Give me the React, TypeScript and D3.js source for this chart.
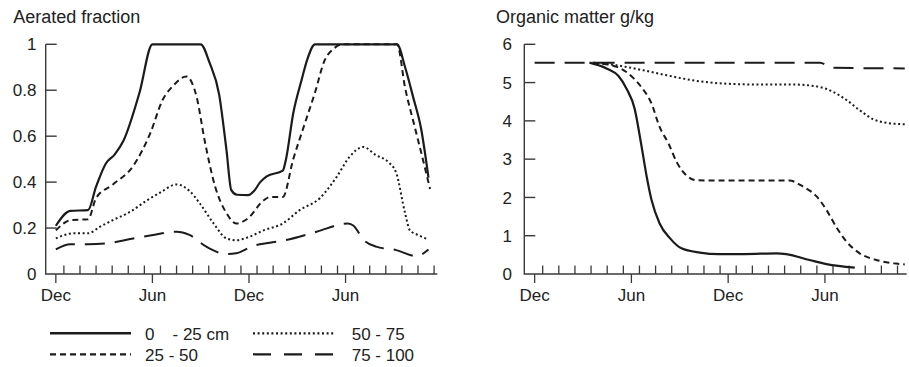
import React from "react";
import * as d3 from "d3";

// ---------- data (month index from first December) ----------
const majorTickMonths = [0, 6, 12, 18];
const majorTickLabels = ["Dec", "Jun", "Dec", "Jun"];

const aeratedTicks = [0, 0.2, 0.4, 0.6, 0.8, 1];
const aeratedTickLabels = ["0", "0.2", "0.4", "0.6", "0.8", "1"];
const organicTicks = [0, 1, 2, 3, 4, 5, 6];
const organicTickLabels = ["0", "1", "2", "3", "4", "5", "6"];

const seriesNames = ["0 - 25 cm", "25 - 50", "50 - 75", "75 - 100"];

const aerated_0_25: [number, number][] = [
  [0, 0.21], [0.9, 0.275], [2.0, 0.278], [2.5, 0.38], [3.1, 0.48], [3.65, 0.52], [4.2, 0.58],
  [5.2, 0.79], [6.0, 1.0], [9.0, 1.0], [9.55, 0.92], [10.15, 0.78], [10.6, 0.54], [10.9, 0.365],
  [11.25, 0.345], [11.95, 0.343], [12.3, 0.36], [12.7, 0.4], [13.1, 0.425], [14.1, 0.45],
  [14.3, 0.5], [14.75, 0.7], [15.25, 0.84], [15.65, 0.94], [16.1, 1.0], [21.2, 1.0],
  [21.7, 0.9], [22.2, 0.77], [22.7, 0.63], [23.15, 0.42],
];
const aerated_25_50: [number, number][] = [
  [0, 0.19], [0.95, 0.235], [2.0, 0.238], [2.5, 0.33], [3.55, 0.39], [4.8, 0.47], [5.85, 0.61],
  [6.65, 0.76], [7.3, 0.82], [8.1, 0.86], [8.75, 0.77], [9.25, 0.58], [9.9, 0.38], [10.6, 0.265],
  [11.2, 0.22], [11.95, 0.243], [12.9, 0.32], [13.3, 0.335], [14.1, 0.335], [14.75, 0.5],
  [15.35, 0.63], [16.1, 0.79], [16.7, 0.93], [17.25, 0.98], [17.8, 1.0], [21.2, 1.0],
  [21.7, 0.81], [22.3, 0.64], [22.8, 0.5], [23.25, 0.37],
];
const aerated_50_75: [number, number][] = [
  [0, 0.155], [1.1, 0.177], [2.0, 0.177], [2.75, 0.206], [3.55, 0.235], [4.6, 0.27], [5.65, 0.32],
  [6.5, 0.355], [7.5, 0.39], [8.3, 0.362], [8.95, 0.307], [9.8, 0.22], [10.6, 0.155], [11.2, 0.147],
  [11.95, 0.16], [12.9, 0.19], [14.1, 0.22], [15.15, 0.278], [16.4, 0.33], [17.45, 0.423],
  [18.25, 0.51], [19.1, 0.553], [19.9, 0.517], [20.65, 0.488], [21.15, 0.44], [21.7, 0.264],
  [22.0, 0.19], [22.5, 0.17], [23.15, 0.15],
];
const aerated_75_100: [number, number][] = [
  [0, 0.107], [0.9, 0.129], [2.0, 0.129], [3.15, 0.133], [4.8, 0.155], [6.05, 0.17], [7.5, 0.184],
  [8.3, 0.17], [9.35, 0.119], [10.6, 0.087], [11.2, 0.09], [12.25, 0.122], [13.3, 0.136],
  [14.3, 0.148], [16.2, 0.184], [18.15, 0.22], [18.5, 0.21], [19.1, 0.15], [19.9, 0.119],
  [21.15, 0.104], [22.4, 0.078], [23.15, 0.107],
];

const organic_0_25: [number, number][] = [
  [3.4, 5.52], [4.45, 5.37], [5.2, 5.17], [5.7, 4.84], [6.2, 4.32], [6.6, 3.41], [6.95, 2.54],
  [7.25, 1.93], [7.75, 1.32], [8.4, 0.93], [9.1, 0.67], [10.25, 0.56], [11.4, 0.52], [13.0, 0.52],
  [15.0, 0.54], [15.6, 0.52], [17.05, 0.365], [18.1, 0.26], [19.85, 0.165],
];
const organic_25_50: [number, number][] = [
  [3.6, 5.52], [5.1, 5.41], [6.1, 5.13], [6.6, 4.89], [7.25, 4.45], [7.75, 3.84], [8.3, 3.41],
  [8.8, 2.93], [9.4, 2.58], [10.0, 2.45], [12.0, 2.44], [15.8, 2.44], [16.65, 2.28], [17.5, 2.02],
  [18.1, 1.67], [18.7, 1.23], [19.35, 0.84], [20.15, 0.54], [21.2, 0.365], [22.25, 0.28],
  [22.95, 0.25],
];
const organic_50_75: [number, number][] = [
  [3.6, 5.52], [5.1, 5.45], [6.75, 5.32], [8.2, 5.19], [9.8, 5.06], [11.9, 4.97], [14.0, 4.95],
  [16.0, 4.95], [17.5, 4.9], [18.5, 4.76], [19.35, 4.54], [20.15, 4.28], [21.0, 4.04],
  [21.8, 3.95], [22.95, 3.91],
];
const organic_75_100: [number, number][] = [
  [0, 5.52], [17.7, 5.52], [18.4, 5.39], [22.95, 5.37],
];

// ---------- styles ----------
const FONT = "'Liberation Sans', Arial, Helvetica, sans-serif";
const INK = "#1b1b1b";
const AXIS = "#3a3a3a";
const dashStyles = ["none", "6,4", "2,2.6", "20,10"];
const lineWidths = [2.2, 2, 2, 2];

type PanelProps = {
  title: string;
  titleX: number;
  axisX: number;
  axisEndX: number;
  domainStart: number;
  domainEnd: number;
  yMax: number;
  yTicks: number[];
  yTickLabels: string[];
  labelRight: number;
  minorCount: number;
  data: [number, number][][];
};

const TOP = 44.3;
const BOTTOM = 274;

function Panel(p: PanelProps) {
  const x = d3.scaleLinear().domain([p.domainStart, p.domainEnd]).range([p.axisX, p.axisEndX]);
  const y = d3.scaleLinear().domain([0, p.yMax]).range([BOTTOM, TOP]);
  const line = d3
    .line<[number, number]>()
    .x((d) => x(d[0]))
    .y((d) => y(d[1]))
    .curve(d3.curveMonotoneX);
  const minor = d3.range(p.minorCount).map((k) => k + 0.5);
  return (
    <g>
      <text x={p.titleX} y={22.7} fontSize={18} fill="#222" fontFamily={FONT}>
        {p.title}
      </text>
      {/* axes */}
      <path
        d={`M${p.axisX},${TOP}V${BOTTOM}H${p.axisEndX}`}
        fill="none"
        stroke={AXIS}
        strokeWidth={1.4}
      />
      {p.yTicks.map((t, i) => (
        <g key={"y" + i}>
          {t > 0 && (
            <line x1={p.axisX} x2={p.axisX + 11} y1={y(t)} y2={y(t)} stroke={AXIS} strokeWidth={1.4} />
          )}
          <text
            x={p.labelRight}
            y={y(t)}
            dy="0.36em"
            textAnchor="end"
            fontSize={17}
            fill="#222"
            fontFamily={FONT}
          >
            {p.yTickLabels[i]}
          </text>
        </g>
      ))}
      {minor.map((m, i) => (
        <line key={"m" + i} x1={x(m)} x2={x(m)} y1={BOTTOM} y2={BOTTOM - 8.5} stroke={AXIS} strokeWidth={1.3} />
      ))}
      {majorTickMonths.map((m, i) => (
        <g key={"M" + i}>
          <line x1={x(m)} x2={x(m)} y1={BOTTOM} y2={BOTTOM + 9} stroke={AXIS} strokeWidth={1.3} />
          <text x={x(m)} y={301} textAnchor="middle" fontSize={17} fill="#222" fontFamily={FONT}>
            {majorTickLabels[i]}
          </text>
        </g>
      ))}
      {p.data.map((s, i) => (
        <path
          key={"s" + i}
          d={line(s) || ""}
          fill="none"
          stroke={INK}
          strokeWidth={lineWidths[i]}
          strokeDasharray={dashStyles[i]}
        />
      ))}
    </g>
  );
}

function Legend() {
  const rows = [333.3, 354.3];
  const items = [
    { col: 0, row: 0, idx: 0 },
    { col: 0, row: 1, idx: 1 },
    { col: 1, row: 0, idx: 2 },
    { col: 1, row: 1, idx: 3 },
  ];
  const lineX = [[50, 131], [253, 335]];
  const textX = [145, 351.7];
  return (
    <g>
      {items.map((it) => {
        const yy = rows[it.row];
        const name = seriesNames[it.idx];
        const isFirst = it.idx === 0;
        return (
          <g key={it.idx}>
            <line
              x1={lineX[it.col][0]}
              x2={lineX[it.col][1]}
              y1={yy}
              y2={yy}
              stroke={INK}
              strokeWidth={it.idx === 0 ? 2.4 : 2.2}
              strokeDasharray={it.idx === 3 ? "18,13" : dashStyles[it.idx]}
            />
            {isFirst ? (
              <g>
                <text x={textX[it.col]} y={yy + 7} fontSize={17} fill="#222" fontFamily={FONT}>
                  {name.split(" ")[0]}
                </text>
                <text x={172.5} y={yy + 7} fontSize={17} fill="#222" fontFamily={FONT}>
                  {name.split(" ").slice(1).join(" ")}
                </text>
              </g>
            ) : (
              <text x={textX[it.col]} y={yy + 7} fontSize={17} fill="#222" fontFamily={FONT}>
                {name}
              </text>
            )}
          </g>
        );
      })}
    </g>
  );
}

export default function App() {
  return (
    <svg
      width={909}
      height={367}
      style={{ position: "absolute", left: 0, top: 0, background: "#fff" }}
    >
      <rect width={909} height={367} fill="#fff" />
      <Panel
        title="Aerated fraction"
        titleX={13.3}
        axisX={45.7}
        axisEndX={437.3}
        domainStart={-0.63}
        domainEnd={23.7}
        yMax={1}
        yTicks={aeratedTicks}
        yTickLabels={aeratedTickLabels}
        labelRight={36.5}
        minorCount={24}
        data={[aerated_0_25, aerated_25_50, aerated_50_75, aerated_75_100]}
      />
      <Panel
        title="Organic matter g/kg"
        titleX={496}
        axisX={524.3}
        axisEndX={906.7}
        domainStart={-0.64}
        domainEnd={23.07}
        yMax={6}
        yTicks={organicTicks}
        yTickLabels={organicTickLabels}
        labelRight={512}
        minorCount={23}
        data={[organic_0_25, organic_25_50, organic_50_75, organic_75_100]}
      />
      <Legend />
    </svg>
  );
}
